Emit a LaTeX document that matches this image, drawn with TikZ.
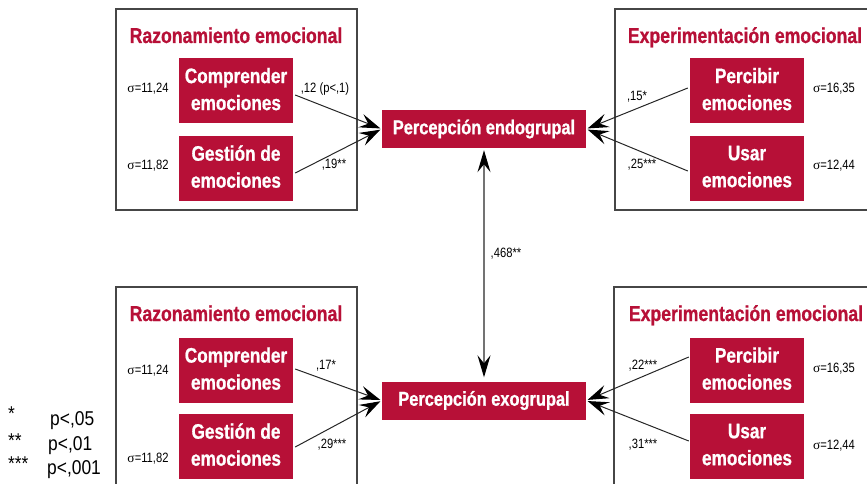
\documentclass[tikz,border=0pt]{standalone}
\usepackage{fontspec}
\setmainfont{Liberation Sans}
\newfontfamily\cond[FakeStretch=0.83]{Liberation Sans}
\newfontface\heavy[FakeStretch=0.82,FakeBold=0.8]{Liberation Sans Bold}
\newfontfamily\legf[FakeStretch=0.87]{Liberation Sans}
\newfontfamily\sigf{Liberation Serif}
\usetikzlibrary{arrows.meta,calc}
\definecolor{rojo}{RGB}{183,16,55}
\definecolor{marco}{RGB}{70,70,70}
\begin{document}
\begin{tikzpicture}[x=1pt,y=-1pt,
  redbox/.style={fill=rojo,text=white,font=\heavy\fontsize{21}{27}\selectfont,align=center,inner sep=0pt,text depth=4pt,minimum width=114pt,minimum height=65pt},
  percbox/.style={fill=rojo,text=white,font=\heavy\fontsize{20}{24}\selectfont,inner sep=0pt,minimum width=204pt,minimum height=38pt},
  framebox/.style={draw=marco,line width=1.4pt},
  ttl/.style={text=rojo,font=\heavy\fontsize{21.5}{24}\selectfont,inner sep=0pt},
  sig/.style={font=\cond\fontsize{13.5}{15}\selectfont,inner sep=0pt},
  coef/.style={font=\cond\fontsize{13.5}{15}\selectfont,inner sep=0pt},
  leg/.style={font=\legf\fontsize{20}{22}\selectfont,inner sep=0pt},
  link/.style={draw=black!85,line width=1pt,shorten >=1.5pt,-{Stealth[length=21pt,width=14pt,inset=8pt,color=black]}},
  dlink/.style={draw=black!55,line width=1.2pt,shorten >=4pt,shorten <=2pt,{Stealth[length=22pt,width=13pt,inset=8pt,color=black]}-{Stealth[length=22pt,width=13pt,inset=8pt,color=black]}},
]
\useasboundingbox (0,0) rectangle (867,484);
\clip (0,0) rectangle (867,484);

% frames
\draw[framebox] (116,9) rectangle (357,210);
\draw[framebox] (615,9) rectangle (880,210);
\draw[framebox] (116,287) rectangle (357,500);
\draw[framebox] (614,287) rectangle (880,500);

% titles
\node[ttl,anchor=base] (t1) at (236,43) {Razonamiento emocional};
\node[ttl,anchor=base] (t2) at (745,43) {Experimentación emocional};
\node[ttl,anchor=base] (t3) at (236,321) {Razonamiento emocional};
\node[ttl,anchor=base] (t4) at (746,321) {Experimentación emocional};

% red boxes top
\node[redbox] (c1) at (236,91) {Comprender\\emociones};
\node[redbox] (g1) at (236,168.5) {Gestión de\\emociones};
\node[redbox] (p1) at (747,91) {Percibir\\emociones};
\node[redbox] (u1) at (747,168.5) {Usar\\emociones};
% red boxes bottom
\node[redbox] (c2) at (236,370.5) {Comprender\\emociones};
\node[redbox] (g2) at (236,446.5) {Gestión de\\emociones};
\node[redbox] (p2) at (747,370.5) {Percibir\\emociones};
\node[redbox] (u2) at (747,446.5) {Usar\\emociones};

% perception boxes
\node[percbox] (endo) at (484,129) {Percepción endogrupal};
\node[percbox] (exo) at (484,400.5) {Percepción exogrupal};

% sigma labels
\node[sig] (s1) at (148,89) {{\sigf σ}=11,24};
\node[sig] (s2) at (148,166) {{\sigf σ}=11,82};
\node[sig] (s3) at (834,89) {{\sigf σ}=16,35};
\node[sig] (s4) at (834,166) {{\sigf σ}=12,44};
\node[sig] (s5) at (148,371) {{\sigf σ}=11,24};
\node[sig] (s6) at (148,459) {{\sigf σ}=11,82};
\node[sig] (s7) at (834,369) {{\sigf σ}=16,35};
\node[sig] (s8) at (834,446) {{\sigf σ}=12,44};

% arrows
\draw[link] ($(c1.east)+(2,4)$) -- (endo.west);
\draw[link] ($(g1.east)+(2,4.5)$) -- (endo.west);
\draw[link] ($(p1.west)+(-2,-3)$) -- (endo.east);
\draw[link] ($(u1.west)+(-2,2.5)$) -- (endo.east);
\draw[link] ($(c2.east)+(2,-1.5)$) -- (exo.west);
\draw[link] ($(g2.east)+(2,0.5)$) -- (exo.west);
\draw[link] ($(p2.west)+(-1,-13.5)$) -- (exo.east);
\draw[link] ($(u2.west)+(-1,-5.5)$) -- (exo.east);
\draw[dlink] (endo.south) -- (exo.north);

% coefficients
\node[coef] (k1) at (325,89) {,12 (p<,1)};
\node[coef] (k2) at (334,165) {,19**};
\node[coef] (k3) at (637,97) {,15*};
\node[coef] (k4) at (642,165) {,25***};
\node[coef] (k5) at (506,254) {,468**};
\node[coef] (k6) at (326,366) {,17*};
\node[coef] (k7) at (332,445) {,29***};
\node[coef] (k8) at (643,366) {,22***};
\node[coef] (k9) at (643,445) {,31***};

% legend
\node[leg,anchor=west] (a1) at (8,414) {*};
\node[leg,anchor=west] (a2) at (8,441) {**};
\node[leg,anchor=west] (a3) at (8,464) {***};
\node[leg,anchor=base west] (l1) at (50,425) {p<,05};
\node[leg,anchor=base west] (l2) at (48,450) {p<,01};
\node[leg,anchor=base west] (l3) at (47,474) {p<,001};
\end{tikzpicture}
\end{document}
